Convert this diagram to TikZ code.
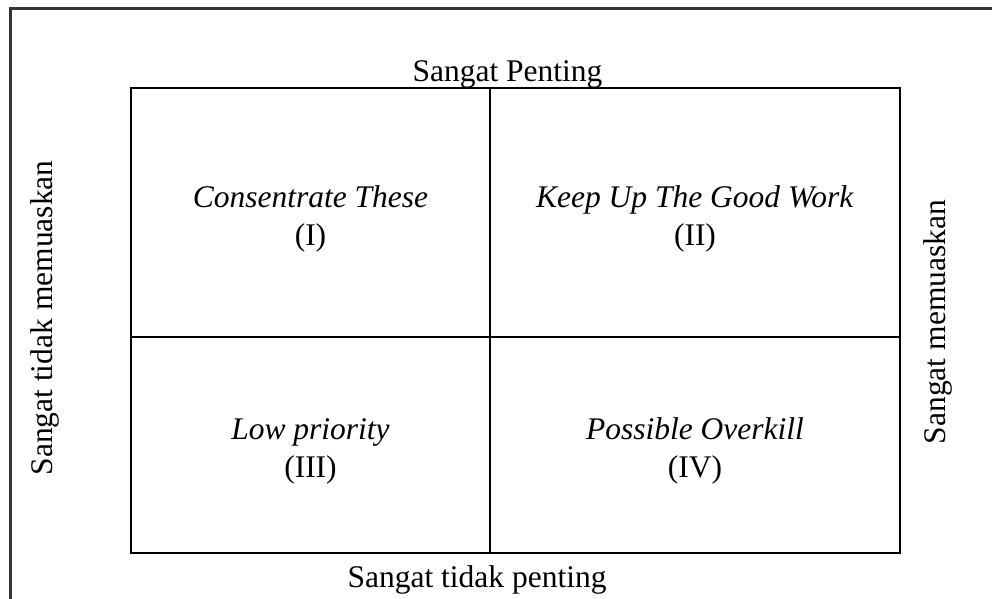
\documentclass[tikz,border=0pt]{standalone}
\usepackage{fontspec}
\setmainfont{Liberation Serif}
\usetikzlibrary{positioning}
\tikzset{
  cell/.style={draw=black,line width=1.4pt,inner sep=0pt},
  celltext/.style={inner sep=0pt,align=center,font=\fontsize{15.75}{19}\selectfont},
  axislab/.style={inner sep=0pt,anchor=base,font=\fontsize{15.75}{19}\selectfont},
  frame/.style={draw=black!80,line width=1.5pt},
}
\begin{document}
\begin{tikzpicture}[x=0.5pt,y=-0.5pt]
  \useasboundingbox (0,0) rectangle (992,599);
  % outer frame (only top and left edges are visible)
  \draw[frame] (10.5,599) -- (10.5,9) -- (992,9);
  % the four quadrants
  \node[cell,minimum width=179.5pt,minimum height=124.5pt] (q1) at (310.5,212.5) {};
  \node[cell,minimum width=205pt,minimum height=124.5pt] (q2) at (695,212.5) {};
  \node[cell,minimum width=179.5pt,minimum height=108pt] (q3) at (310.5,445) {};
  \node[cell,minimum width=205pt,minimum height=108pt] (q4) at (695,445) {};
  \foreach \q/\name/\num in {q1/Consentrate These/I,q2/Keep Up The Good Work/II,
      q3/Low priority/III,q4/Possible Overkill/IV} {
    \node[celltext] (\q t) at ([yshift=-3pt]\q.center) {\textit{\name}\\(\num)};
  }
  % axis labels
  \node[axislab] (top) at (507.5,82) {Sangat Penting};
  \node[axislab] (bottom) at (477,587) {Sangat tidak penting};
  \node[axislab,rotate=90] (left) at (53,318) {Sangat tidak memuaskan};
  \node[axislab,rotate=90] (right) at (945,322) {Sangat memuaskan};
\end{tikzpicture}
\end{document}
